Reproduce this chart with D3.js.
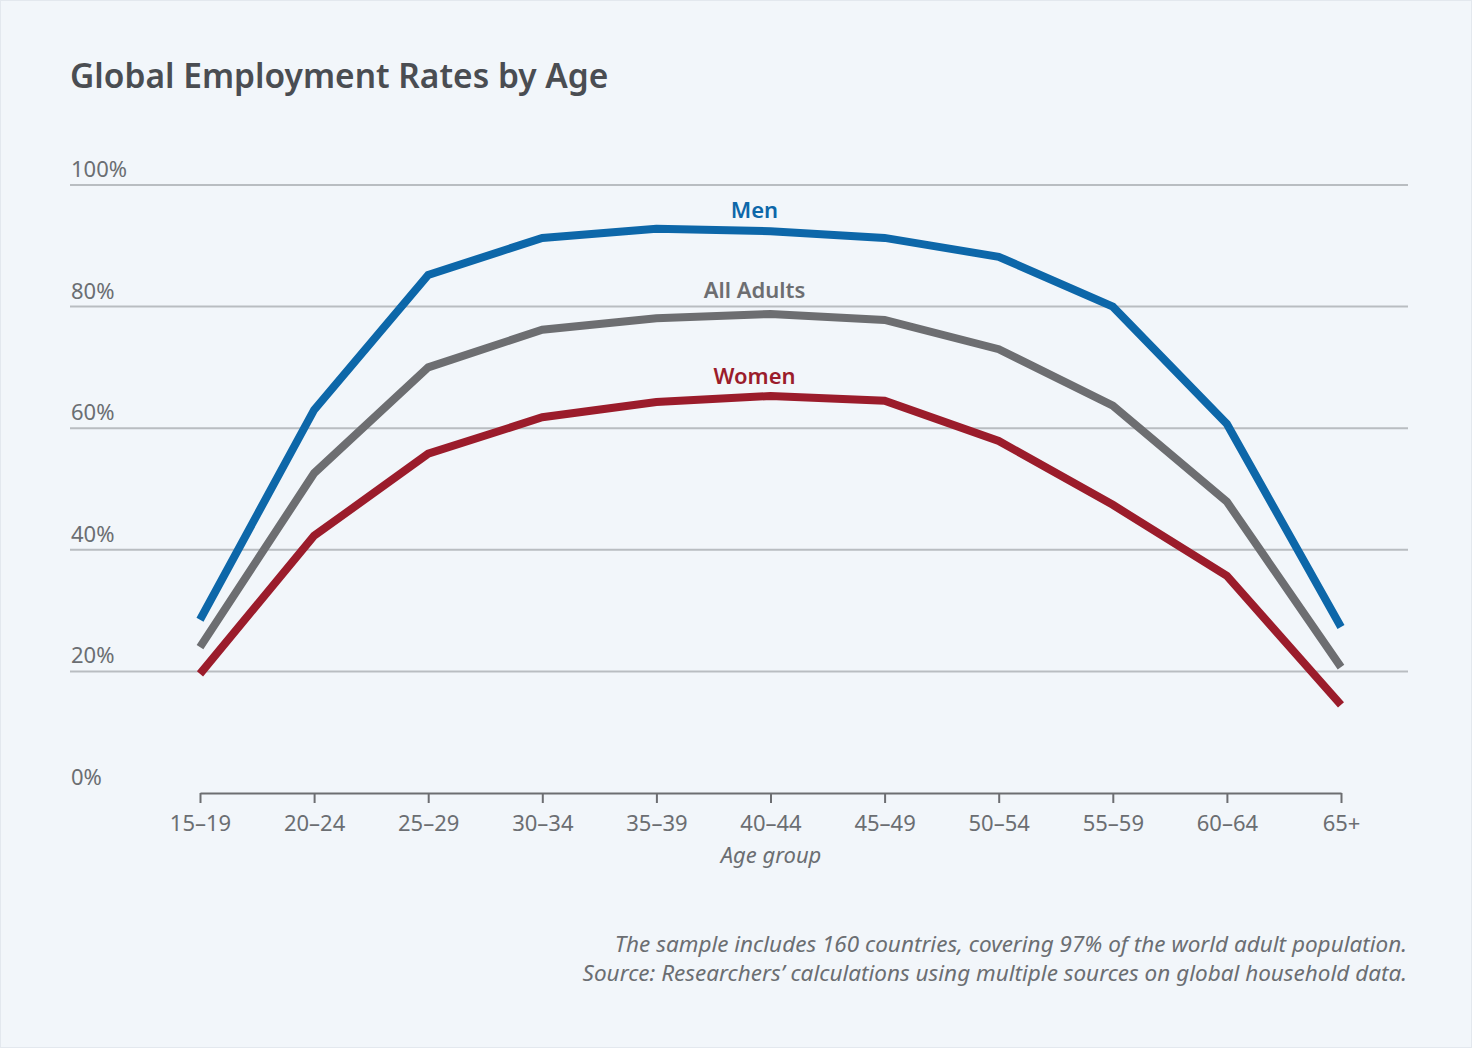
<!DOCTYPE html>
<html>
<head>
<meta charset="utf-8">
<script src="https://cdn.jsdelivr.net/npm/d3@7"></script>
<style>
  body { margin: 0; background: #f2f6fa; }
  svg { display: block; font-family: "Source Sans Pro", "Noto Sans", sans-serif; }
</style>
</head>
<body>
<script>
// data
var ageGroups = ["15–19", "20–24", "25–29", "30–34", "35–39", "40–44", "45–49", "50–54", "55–59", "60–64", "65+"];
var men = [28.5, 63, 85.2, 91.3, 92.8, 92.4, 91.3, 88.2, 80, 60.7, 27.3];
var allAdults = [24, 52.6, 70, 76.2, 78.1, 78.8, 77.8, 73, 63.7, 47.9, 20.7];
var women = [19.6, 42.3, 55.8, 61.8, 64.3, 65.3, 64.5, 57.9, 47.4, 35.7, 14.5];
var yTicks = [0, 20, 40, 60, 80, 100];

var series = [
  { name: "Men", values: men, color: "#0d67a9", labelY: 94.5 },
  { name: "All Adults", values: allAdults, color: "#6d6e71", labelY: 81.4 },
  { name: "Women", values: women, color: "#9b1c2b", labelY: 67.3 }
];

var svgWidth = 1472, svgHeight = 1048;
var margin = { top: 185, right: 64, bottom: 255, left: 70 };
var width = svgWidth - margin.left - margin.right;
var height = svgHeight - margin.top - margin.bottom;

var svg = d3.select("body").append("svg")
  .attr("width", svgWidth)
  .attr("height", svgHeight);

svg.append("rect")
  .attr("x", 0.5).attr("y", 0.5)
  .attr("width", svgWidth - 1).attr("height", svgHeight - 1)
  .attr("fill", "#f2f6fa")
  .attr("stroke", "#e3e8ee");

svg.append("text")
  .attr("x", 70).attr("y", 88)
  .attr("fill", "#4a4d52")
  .attr("font-size", 33.5)
  .attr("font-weight", 600)
  .text("Global Employment Rates by Age");

var chartGroup = svg.append("g")
  .attr("transform", `translate(${margin.left}, ${margin.top})`);

// ticks are not centred in the plot: more room on the left
var xScale = d3.scalePoint()
  .domain(ageGroups)
  .range([130, width - 67]);

var yScale = d3.scaleLinear()
  .domain([0, 100])
  .range([height, 0]);

// gridlines + y labels
var grid = chartGroup.selectAll(".grid")
  .data(yTicks.filter(d => d > 0))
  .enter().append("g")
  .attr("transform", d => `translate(0, ${yScale(d)})`);

grid.append("line")
  .attr("x1", 0).attr("x2", width)
  .attr("stroke", "#b9bdc1")
  .attr("stroke-width", 2);

chartGroup.selectAll(".ylab")
  .data(yTicks)
  .enter().append("text")
  .attr("x", 1)
  .attr("y", d => yScale(d) - 8)
  .attr("fill", "#6b6e72")
  .attr("font-size", 22)
  .text(d => d + "%");

// x axis
var bottomAxis = d3.axisBottom(xScale).tickSizeInner(10).tickSizeOuter(0).tickPadding(12);
var xAxis = chartGroup.append("g")
  .attr("transform", `translate(0, ${height})`)
  .call(bottomAxis);
xAxis.select(".domain").attr("stroke", "#6d6e71").attr("stroke-width", 2);
xAxis.selectAll(".tick line").attr("stroke", "#6d6e71").attr("stroke-width", 2);
xAxis.selectAll(".tick text")
  .attr("fill", "#6b6e72")
  .attr("font-size", 22)
  .attr("font-family", "\"Source Sans Pro\", \"Noto Sans\", sans-serif");

chartGroup.append("text")
  .attr("x", 701).attr("y", height + 70)
  .attr("text-anchor", "middle")
  .attr("fill", "#6b6e72")
  .attr("font-size", 22)
  .attr("font-style", "italic")
  .text("Age group");

// lines
var line = d3.line()
  .x((d, i) => xScale(ageGroups[i]))
  .y(d => yScale(d));

chartGroup.selectAll(".series")
  .data(series)
  .enter().append("path")
  .attr("d", d => line(d.values))
  .attr("fill", "none")
  .attr("stroke", d => d.color)
  .attr("stroke-width", 8)
  .attr("stroke-linejoin", "miter");

chartGroup.selectAll(".serieslabel")
  .data(series)
  .enter().append("text")
  .attr("x", xScale("40–44") - 16)
  .attr("y", d => yScale(d.labelY))
  .attr("text-anchor", "middle")
  .attr("fill", d => d.color)
  .attr("font-size", 22)
  .attr("font-weight", 600)
  .text(d => d.name);

// footnote
var notes = [
  "The sample includes 160 countries, covering 97% of the world adult population.",
  "Source: Researchers’ calculations using multiple sources on global household data."
];
svg.selectAll(".note")
  .data(notes)
  .enter().append("text")
  .attr("x", 1407)
  .attr("y", (d, i) => 952 + i * 29)
  .attr("text-anchor", "end")
  .attr("fill", "#6b6e72")
  .attr("font-size", 22.5)
  .attr("font-style", "italic")
  .text(d => d);
</script>
</body>
</html>
